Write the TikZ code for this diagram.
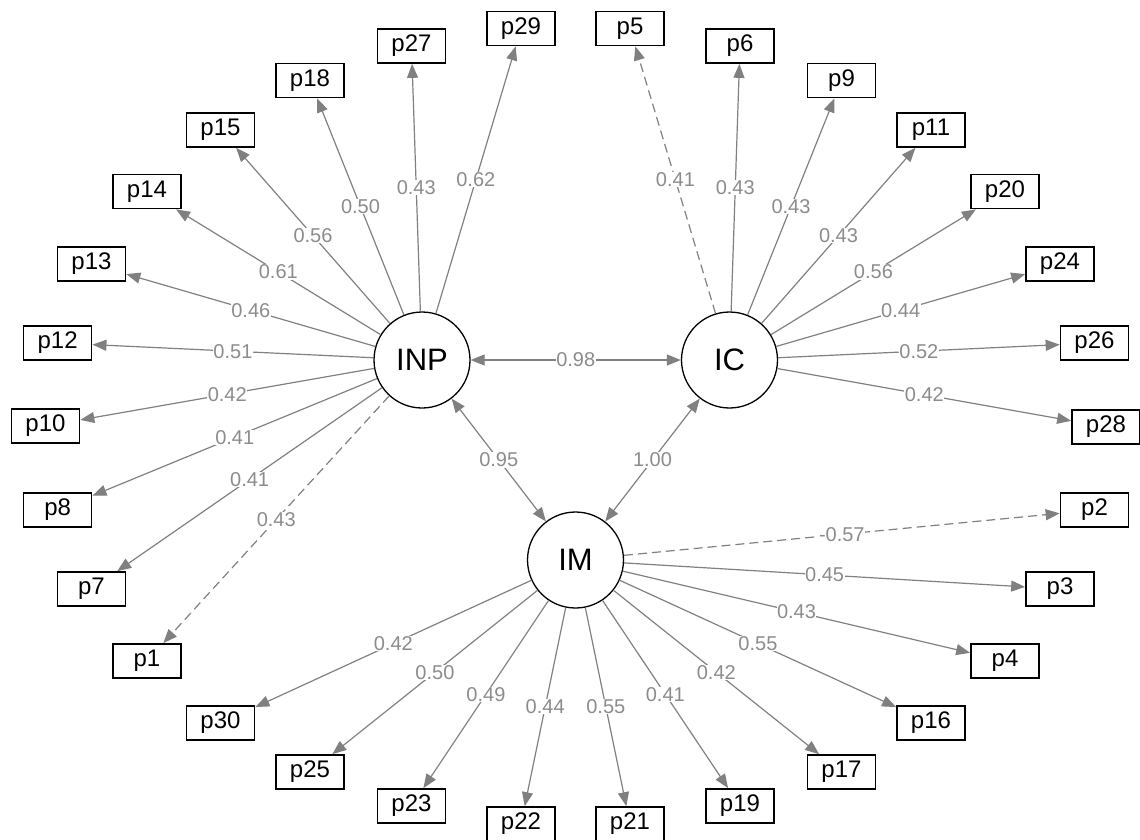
\documentclass[tikz,border=0pt]{standalone}
\usepackage{fontspec}
\setmainfont{Liberation Sans}
\usetikzlibrary{arrows.meta}
\definecolor{edgec}{RGB}{128,128,128}
\definecolor{lblc}{RGB}{140,140,140}
\tikzset{
  man/.style={draw=black, line width=1.7pt, minimum width=68pt, minimum height=34pt, inner sep=0pt, font=\fontsize{24}{24}\selectfont},
  lat/.style={draw=black, line width=1.3pt, circle, minimum size=96pt, inner sep=0pt, font=\fontsize{31}{31}\selectfont},
  edge/.style={draw=edgec, line width=1.2pt, -{Triangle[length=14pt,width=11pt]}},
  cov/.style={draw=edgec, line width=1.2pt, {Triangle[length=14pt,width=11pt]}-{Triangle[length=14pt,width=11pt]}},
  dsh/.style={dash pattern=on 9pt off 5pt},
  lbl/.style={fill=white, inner sep=0.5pt, text=lblc, font=\fontsize{20}{20}\selectfont, midway}
}
\begin{document}
\begin{tikzpicture}[x=1pt,y=-1pt]
\useasboundingbox (0,0) rectangle (1140,839);
% latent
\node[lat] (INP) at (422,360) {INP};
\node[lat] (IC) at (729.5,360) {IC};
\node[lat] (IM) at (575.5,560) {IM};
% left ring
\node[man] (p29) at (521,28.5) {p29};
\node[man] (p27) at (411.5,46) {p27};
\node[man] (p18) at (310,80.5) {p18};
\node[man] (p15) at (220.5,130) {p15};
\node[man] (p14) at (147,191.5) {p14};
\node[man] (p13) at (91.5,264) {p13};
\node[man] (p12) at (57.6,343) {p12};
\node[man] (p10) at (45.5,426) {p10};
\node[man] (p8) at (57.6,510) {p8};
\node[man] (p7) at (91.5,589) {p7};
\node[man] (p1) at (147,661) {p1};
\node[man] (p30) at (220.5,723) {p30};
\node[man] (p25) at (310,772) {p25};
\node[man] (p23) at (411.5,806) {p23};
\node[man] (p22) at (521,824) {p22};
% right ring
\node[man] (p5) at (630,28.5) {p5};
\node[man] (p6) at (740,46) {p6};
\node[man] (p9) at (841.5,80.5) {p9};
\node[man] (p11) at (931,130) {p11};
\node[man] (p20) at (1005,191.5) {p20};
\node[man] (p24) at (1060,264) {p24};
\node[man] (p26) at (1094.5,343) {p26};
\node[man] (p28) at (1106,427) {p28};
\node[man] (p2) at (1094.5,510) {p2};
\node[man] (p3) at (1060,589) {p3};
\node[man] (p4) at (1005,661) {p4};
\node[man] (p16) at (931,723) {p16};
\node[man] (p17) at (841.5,772) {p17};
\node[man] (p19) at (740,806) {p19};
\node[man] (p21) at (630,824) {p21};
% INP loadings
\draw[edge] (INP) -- node[lbl]{0.62} (p29);
\draw[edge] (INP) -- node[lbl]{0.43} (p27);
\draw[edge] (INP) -- node[lbl]{0.50} (p18);
\draw[edge] (INP) -- node[lbl]{0.56} (p15);
\draw[edge] (INP) -- node[lbl]{0.61} (p14);
\draw[edge] (INP) -- node[lbl]{0.46} (p13);
\draw[edge] (INP) -- node[lbl]{0.51} (p12);
\draw[edge] (INP) -- node[lbl]{0.42} (p10);
\draw[edge] (INP) -- node[lbl]{0.41} (p8);
\draw[edge] (INP) -- node[lbl]{0.41} (p7);
\draw[edge,dsh] (INP) -- node[lbl]{0.43} (p1);
% IC loadings
\draw[edge,dsh] (IC) -- node[lbl]{0.41} (p5);
\draw[edge] (IC) -- node[lbl]{0.43} (p6);
\draw[edge] (IC) -- node[lbl]{0.43} (p9);
\draw[edge] (IC) -- node[lbl]{0.43} (p11);
\draw[edge] (IC) -- node[lbl]{0.56} (p20);
\draw[edge] (IC) -- node[lbl]{0.44} (p24);
\draw[edge] (IC) -- node[lbl]{0.52} (p26);
\draw[edge] (IC) -- node[lbl]{0.42} (p28);
% IM loadings
\draw[edge,dsh] (IM) -- node[lbl]{-0.57} (p2);
\draw[edge] (IM) -- node[lbl]{0.45} (p3);
\draw[edge] (IM) -- node[lbl]{0.43} (p4);
\draw[edge] (IM) -- node[lbl]{0.55} (p16);
\draw[edge] (IM) -- node[lbl]{0.42} (p17);
\draw[edge] (IM) -- node[lbl]{0.41} (p19);
\draw[edge] (IM) -- node[lbl]{0.55} (p21);
\draw[edge] (IM) -- node[lbl]{0.44} (p22);
\draw[edge] (IM) -- node[lbl]{0.49} (p23);
\draw[edge] (IM) -- node[lbl]{0.50} (p25);
\draw[edge] (IM) -- node[lbl]{0.42} (p30);
% covariances
\draw[cov] (INP) -- node[lbl]{0.98} (IC);
\draw[cov] (INP) -- node[lbl]{0.95} (IM);
\draw[cov] (IC) -- node[lbl]{1.00} (IM);
\end{tikzpicture}
\end{document}
